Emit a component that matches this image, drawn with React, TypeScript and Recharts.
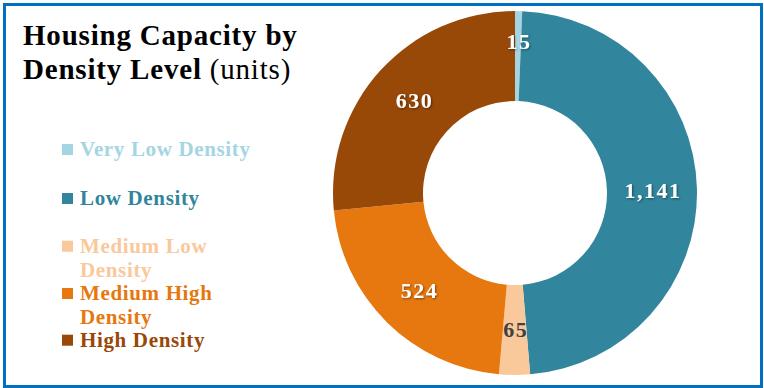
import React from "react";
import { PieChart, Pie, Cell, Legend } from "recharts";

const categories = ["Very Low Density", "Low Density", "Medium Low Density", "Medium High Density", "High Density"];
const values = [15, 1141, 65, 524, 630];
const colors = ["#A5D5E2", "#31859C", "#F9C89B", "#E6780F", "#984807"];
const labelColors = ["#FFFFFF", "#FFFFFF", "#404040", "#FFFFFF", "#FFFFFF"];
const legendLines = [["Very Low Density"], ["Low Density"], ["Medium Low", "Density"], ["Medium High", "Density"], ["High Density"]];

const data = categories.map((name, i) => ({ name, value: values[i] }));

const FONT = "'Liberation Serif', 'DejaVu Serif', serif";
const RAD = Math.PI / 180;

const renderLabel = (props: any) => {
  const { cx, cy, midAngle, innerRadius, outerRadius, index, value, percent } = props;
  const r = percent < 0.01 ? outerRadius - 30 : (innerRadius + outerRadius) / 2;
  const x = cx + r * Math.cos(-midAngle * RAD);
  const y = cy + r * Math.sin(-midAngle * RAD);
  const fill = labelColors[index];
  return (
    <text
      x={x + 1}
      y={y}
      fill={fill}
      textAnchor="middle"
      dominantBaseline="central"
      fontFamily={FONT}
      fontWeight="bold"
      fontSize={22}
      letterSpacing={1.5}
      filter={fill === "#FFFFFF" ? "url(#lblShadow)" : undefined}
    >
      {value.toLocaleString("en-US")}
    </text>
  );
};

// legend baselines relative to legend box
const legendBaselines = [26, 75, 122.7, 170, 216.7];
const LINE_H = 24;

const renderLegend = () => (
  <svg width={260} height={240} style={{ display: "block", overflow: "visible" }}>
    {legendLines.map((lines, i) => (
      <g key={i}>
        <rect x={7} y={legendBaselines[i] - 12} width={11} height={11} fill={colors[i]} />
        {lines.map((l, j) => (
          <text
            key={j}
            x={25}
            y={legendBaselines[i] + j * LINE_H}
            fill={colors[i]}
            fontFamily={FONT}
            fontWeight="bold"
            fontSize={21}
            letterSpacing={0.65}
          >
            {l}
          </text>
        ))}
      </g>
    ))}
  </svg>
);

export default function App() {
  return (
    <div style={{ position: "absolute", left: 0, top: 0, width: 764, height: 388, background: "#FFFFFF", overflow: "hidden" }}>
      <div style={{ position: "absolute", left: 3, top: 3, width: 754, height: 379, border: "3px solid #0070C0", boxSizing: "content-box" }} />
      <div style={{ position: "absolute", left: 23, top: 17.5, fontFamily: FONT, fontSize: 29, lineHeight: "34px", letterSpacing: 0.8, color: "#000", whiteSpace: "nowrap" }}>
        <div style={{ fontWeight: "bold" }}>Housing Capacity by</div>
        <div>
          <span style={{ fontWeight: "bold" }}>Density Level</span> (units)
        </div>
      </div>
      <div style={{ position: "absolute", left: 0, top: 0 }}>
        <PieChart width={764} height={388} margin={{ top: 0, right: 0, bottom: 0, left: 0 }}>
          <defs>
            <filter id="lblShadow" x="-20%" y="-20%" width="140%" height="140%">
              <feDropShadow dx="1" dy="1" stdDeviation="1" floodColor="#000" floodOpacity="0.45" />
            </filter>
          </defs>
          <Pie
            data={data}
            dataKey="value"
            nameKey="name"
            cx={515}
            cy={193}
            innerRadius={92}
            outerRadius={182}
            startAngle={90}
            endAngle={-270}
            stroke="none"
            label={renderLabel}
            labelLine={false}
            isAnimationActive={false}
          >
            {data.map((d, i) => (
              <Cell key={d.name} fill={colors[i]} />
            ))}
          </Pie>
          <Legend content={renderLegend} wrapperStyle={{ left: 55, top: 130, width: 260 }} />
        </PieChart>
      </div>
    </div>
  );
}
